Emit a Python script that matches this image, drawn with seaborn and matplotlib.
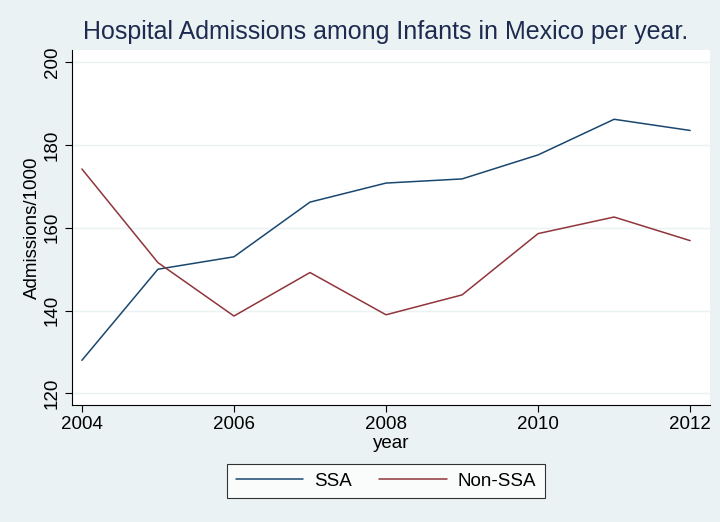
import matplotlib
matplotlib.use("Agg")
import matplotlib.pyplot as plt
import seaborn as sns
import pandas as pd

years = [2004, 2005, 2006, 2007, 2008, 2009, 2010, 2011, 2012]
ssa = [128.0, 150.0, 153.0, 166.2, 170.8, 171.8, 177.6, 186.2, 183.5]
non_ssa = [174.2, 151.6, 138.7, 149.2, 139.0, 143.8, 158.6, 162.6, 156.9]
series_names = ["SSA", "Non-SSA"]
y_ticks = [120, 140, 160, 180, 200]
x_ticks = [2004, 2006, 2008, 2010, 2012]

df = pd.DataFrame({
    "year": years * 2,
    "value": ssa + non_ssa,
    "series": [series_names[0]] * len(years) + [series_names[1]] * len(years),
})

bg = "#eaf2f3"
sns.set_theme(style="white")
plt.rcParams["font.family"] = ["Liberation Sans", "DejaVu Sans"]

fig = plt.figure(figsize=(7.2, 5.22), dpi=100, facecolor=bg)
ax = fig.add_axes([0.1, 0.224, 0.886, 0.68])
ax.set_facecolor("white")

sns.lineplot(data=df, x="year", y="value", hue="series",
             palette={"SSA": "#1a476f", "Non-SSA": "#90353b"},
             linewidth=1.1, ax=ax, legend=False)

ax.set_xlim(2003.87, 2012.26)
ax.set_ylim(117.2, 202.9)
ax.set_xticks(x_ticks)
ax.set_yticks(y_ticks)
ax.set_yticklabels([str(t) for t in y_ticks], rotation=90, va="center")
ax.tick_params(axis="both", direction="out", length=5, width=0.8, color="black",
               labelsize=13.5, labelcolor="black", bottom=True, left=True, pad=3)
for t in y_ticks:
    ax.axhline(t, color=bg, linewidth=1.0, zorder=0)

for side in ["top", "right"]:
    ax.spines[side].set_visible(False)
for side in ["left", "bottom"]:
    ax.spines[side].set_color("black")
    ax.spines[side].set_linewidth(0.8)

ax.set_xlabel("year", fontsize=13.5, color="black", labelpad=1)
ax.set_ylabel("Admissions/1000", fontsize=13.5, color="black", labelpad=2)
fig.text(0.535, 0.938, "Hospital Admissions among Infants in Mexico per year.",
         ha="center", va="center", fontsize=18, color="#1e2b50")

handles = [plt.Line2D([], [], color=c, linewidth=1.1) for c in ["#1a476f", "#90353b"]]
leg = fig.legend(handles, series_names, loc="center", bbox_to_anchor=(386 / 720, 1 - 481 / 522),
                 ncol=2, frameon=True, fancybox=False, edgecolor="black", facecolor="white",
                 fontsize=13.5, handlelength=3.6, handletextpad=0.6, columnspacing=1.45,
                 borderpad=0.45, borderaxespad=0)
leg.get_frame().set_linewidth(0.8)
for txt in leg.get_texts():
    txt.set_color("black")

fig.savefig("out.png", dpi=100, facecolor=bg)
